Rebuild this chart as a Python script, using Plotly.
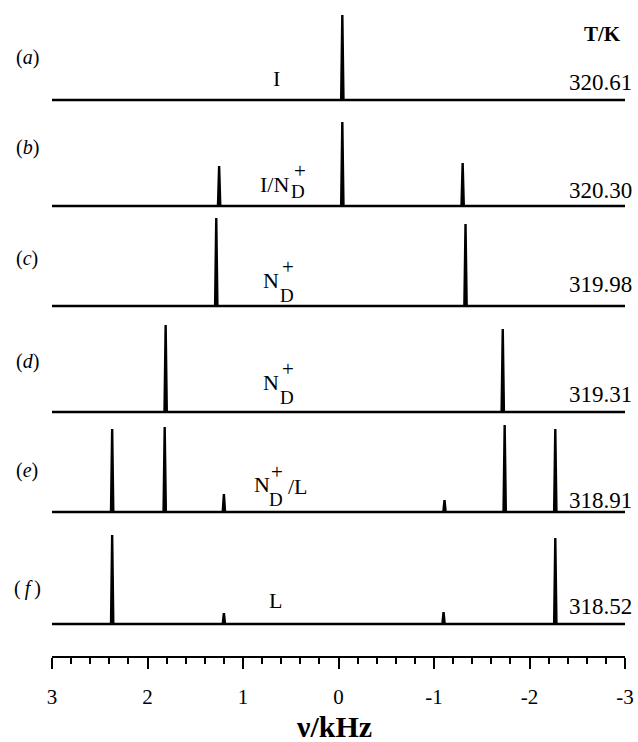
import plotly.graph_objects as go

# ---- data -------------------------------------------------------------
panel_labels = ["(<i>a</i>)", "(<i>b</i>)", "(<i>c</i>)", "(<i>d</i>)", "(<i>e</i>)", "(\u2009<i>f</i>\u2009)"]
temperatures = ["320.61", "320.30", "319.98", "319.31", "318.91", "318.52"]

# peak positions (kHz) and peak intensities (arb. units) for each spectrum
peak_pos = [
    [-0.04],
    [1.25, -0.04, -1.30],
    [1.28, -1.33],
    [1.81, -1.72],
    [2.37, 1.82, 1.20, -1.11, -1.74, -2.27],
    [2.37, 1.20, -1.10, -2.27],
]
peak_int = [
    [85],
    [40, 84, 43],
    [88, 82],
    [87, 83],
    [83, 85, 18, 12, 87, 83],
    [89, 11, 12, 86],
]

tick_vals = [3, 2, 1, 0, -1, -2, -3]
tick_text = ["3", "2", "1", "0", "-1", "-2", "-3"]

# ---- layout constants -------------------------------------------------
W, H = 638, 742
L, R, T, B = 52, 13, 0, 86
PW, PH = W - L - R, H - T - B
baselines = [556, 450, 350, 244, 144, 32]   # vertical offset of each trace
half_width = 0.012                          # kHz, half base width of a line
FONT = "Liberation Serif"


def spectrum(pos, inten, base):
    xs, ys = [3.0], [base]
    for p, h in sorted(zip(pos, inten), key=lambda t: -t[0]):
        xs += [p + half_width, p, p - half_width]
        ys += [base, base + h, base]
    xs.append(-3.0)
    ys.append(base)
    return xs, ys


fig = go.Figure()
for pos, inten, base in zip(peak_pos, peak_int, baselines):
    xs, ys = spectrum(pos, inten, base)
    fig.add_trace(go.Scatter(x=xs, y=ys, mode="lines",
                             line=dict(color="black", width=2.4),
                             hoverinfo="skip", showlegend=False))


def px(x):
    return (x - L) / PW


def py(y):
    return (H - B - y) / PH


annotations = []


def text(s, x, y, size, xanchor="center", bold=False):
    if bold:
        s = "<b>" + s + "</b>"
    annotations.append(dict(text=s, x=px(x), y=py(y), xref="paper", yref="paper",
                            xanchor=xanchor, yanchor="middle", showarrow=False,
                            font=dict(family=FONT, size=size, color="black")))


# panel letters
for lab, y in zip(panel_labels, [58, 147, 258, 362, 470, 588]):
    text(lab, 27, y, 20)

# temperatures
text("T/K", 602, 34, 21, bold=True)
for t, y in zip(temperatures, [83, 190, 284, 395, 500, 606]):
    text(t, 634, y, 23, xanchor="right")

# phase labels
text("I", 276, 78, 22)
text("I/N", 274, 185, 22)
text("D", 298, 191, 19)
text("+", 300, 171, 21)
for y0 in (280, 382):
    text("N", 271, y0, 22)
    text("D", 287, y0 + 15, 19)
    text("+", 288, y0 - 13, 21)
text("N", 262, 485, 22)
text("D", 276, 499, 19)
text("+", 277, 472, 21)
text("/L", 298, 486, 22)
text("L", 275, 600, 22)

# axis title
text("\u03bd/kHz", 334, 726, 30, bold=True)

fig.update_layout(
    width=W, height=H,
    margin=dict(l=L, r=R, t=T, b=B),
    paper_bgcolor="white", plot_bgcolor="white",
    annotations=annotations,
    xaxis=dict(range=[3, -3], showgrid=False, zeroline=False,
               showline=True, linecolor="black", linewidth=2,
               ticks="outside", ticklen=11, tickwidth=2, tickcolor="black",
               ticklabelstandoff=10,
               tickvals=tick_vals, ticktext=tick_text,
               tickfont=dict(family=FONT, size=21, color="black"),
               minor=dict(dtick=0.2, tick0=0, ticks="outside", ticklen=6,
                          tickwidth=1.5, tickcolor="black", showgrid=False)),
    yaxis=dict(range=[0, PH], visible=False, fixedrange=True),
)

fig.write_html("out.html")
